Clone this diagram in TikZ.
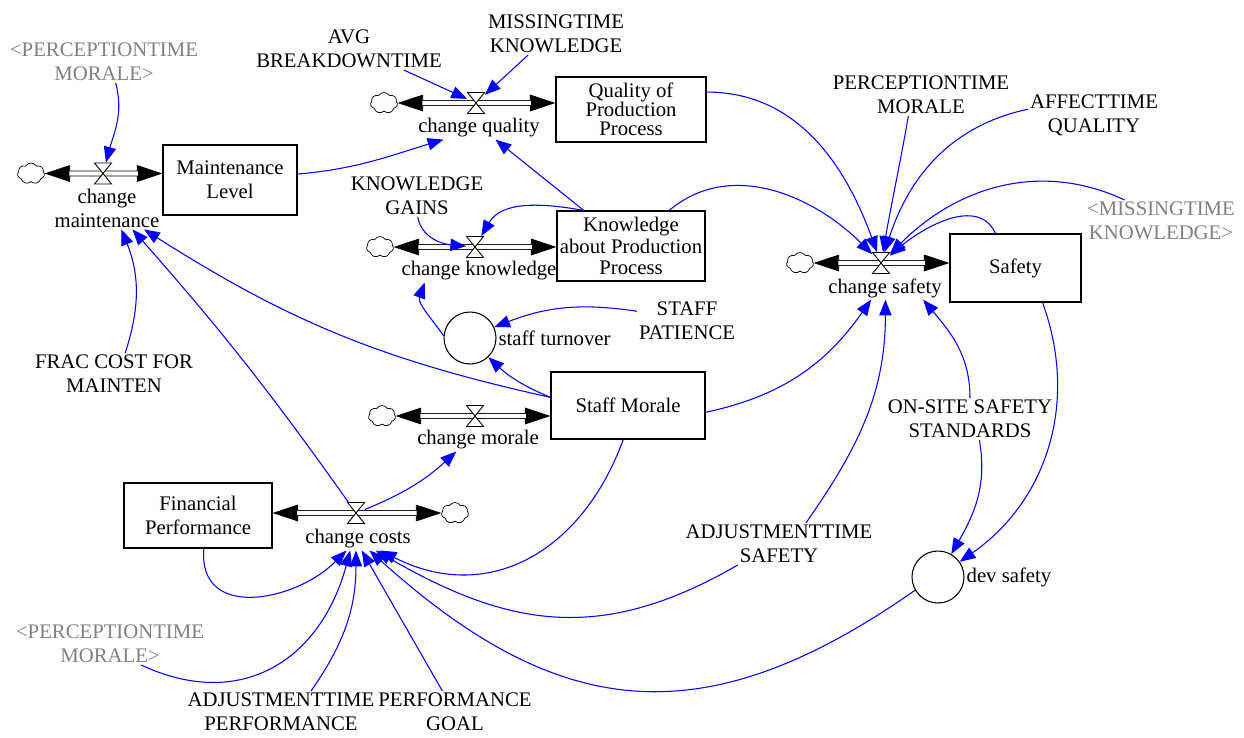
\documentclass[tikz,border=0pt]{standalone}
\usepackage{fontspec}
\setmainfont{Liberation Serif}
\usepackage{xcolor}
\usetikzlibrary{arrows.meta}
\usetikzlibrary{shapes.symbols, positioning, calc}

\tikzset{
  stock/.style={draw, line width=0.7pt, align=center, inner sep=1pt},
  konst/.style={align=center, inner sep=1pt},
  shadowvar/.style={konst, text=gray},
  flowlabel/.style={align=center, inner sep=1pt},
  valvebox/.style={inner sep=0pt, minimum width=0.34cm, minimum height=0.42cm},
  aux/.style={draw, circle, line width=0.6pt, minimum size=1.04cm, inner sep=0pt},
  source/.style={cloud, cloud puffs=7, cloud puff arc=120, aspect=1.25, draw,
    fill=white, line width=0.4pt, minimum width=0.54cm, minimum height=0.42cm, inner sep=0pt},
  link/.style={draw=blue, line width=0.6pt, -{Triangle[length=9pt, width=7pt]}},
  pipetip/.style={line width=0.5pt, {Triangle[length=14.5pt, width=9.5pt]}-{Triangle[length=14.5pt, width=9.5pt]}},
  pipe/.style={double, double distance=2.3pt, line width=0.5pt, shorten <=14pt, shorten >=14pt},
  valve/.pic={\draw[line width=0.5pt, fill=white] (-8.5,-10.5) -- (8.5,-10.5) -- (-8.5,10.5) -- (8.5,10.5) -- cycle;}
}

\begin{document}
\begin{tikzpicture}[x=0.02cm, y=-0.02cm, font=\fontsize{11.8pt}{13.6pt}\selectfont]
    \useasboundingbox (0,0) rectangle (1244,737);

    % Stocks
    \node[stock, minimum width=2.68cm, minimum height=1.40cm] (ml) at (230,180) {Maintenance\\Level};
    \node[stock, minimum width=3.00cm, minimum height=1.30cm, font=\fontsize{11.8pt}{10.8pt}\selectfont] (qp) at (631,109.5) {Quality of\\Production\\Process};
    \node[stock, minimum width=2.96cm, minimum height=1.40cm, font=\fontsize{11.8pt}{12.4pt}\selectfont] (kn) at (631,246) {Knowledge\\about Production\\Process};
    \node[stock, minimum width=2.62cm, minimum height=1.36cm] (sf) at (1015.5,268) {Safety};
    \node[stock, minimum width=3.08cm, minimum height=1.34cm] (sm) at (628,405.5) {Staff Morale};
    \node[stock, minimum width=2.96cm, minimum height=1.30cm] (fp) at (198,515.5) {Financial\\Performance};

    % Clouds
    \node[source] (cm) at (31,173.5) {};
    \node[source] (cq) at (384,103) {};
    \node[source] (ck) at (380,247) {};
    \node[source] (cs) at (800,263) {};
    \node[source] (cmo) at (382,416) {};
    \node[source] (cc) at (455,513) {};

    % Valves
    \node[valvebox] (vm) at (103,173.5) {};
    \node[valvebox] (vq) at (476,103) {};
    \node[valvebox] (vk) at (475,247) {};
    \node[valvebox] (vs) at (881,263) {};
    \node[valvebox] (vmo) at (475,416) {};
    \node[valvebox] (vc) at (356,513) {};

    % Pipes
    \draw[pipetip] (cm) -- (ml.west |- vm);
    \draw[pipe] (cm) -- (ml.west |- vm);
    \draw[pipetip] (cq) -- (qp.west |- vq);
    \draw[pipe] (cq) -- (qp.west |- vq);
    \draw[pipetip] (ck) -- (kn.west |- vk);
    \draw[pipe] (ck) -- (kn.west |- vk);
    \draw[pipetip] (cs) -- (sf.west |- vs);
    \draw[pipe] (cs) -- (sf.west |- vs);
    \draw[pipetip] (cmo) -- (sm.west |- vmo);
    \draw[pipe] (cmo) -- (sm.west |- vmo);
    \draw[pipetip] (fp.east |- vc) -- (cc);
    \draw[pipe] (fp.east |- vc) -- (cc);
    \foreach \v in {vm, vq, vk, vs, vmo, vc}
        \pic at (\v) {valve};

    % Flow names
    \node[flowlabel] (lm) at (107,208) {change\\maintenance};
    \node[flowlabel] (lq) at (479,128) {change quality};
    \node[flowlabel] (lk) at (479,271) {change knowledge};
    \node[flowlabel] (ls) at (885,288) {change safety};
    \node[flowlabel] (lmo) at (478,440) {change morale};
    \node[flowlabel] (lc) at (358,539) {change costs};

    % Auxiliaries
    \node[aux] (st) at (470,338) {};
    \node[konst, right=0pt of st] (stl) {staff turnover};
    \node[aux] (ds) at (938,577) {};
    \node[konst, right=0pt of ds] (dsl) {dev safety};

    % Constants
    \node[shadowvar] (pmt) at (104,62) {<PERCEPTIONTIME\\MORALE>};
    \node[konst] (avg) at (349,49) {AVG\\BREAKDOWNTIME};
    \node[konst] (mk) at (556,34) {MISSINGTIME\\KNOWLEDGE};
    \node[konst] (pm) at (921,95) {PERCEPTIONTIME\\MORALE};
    \node[konst] (aq) at (1094,115) {AFFECTTIME\\QUALITY};
    \node[konst] (kg) at (417,196) {KNOWLEDGE\\GAINS};
    \node[shadowvar] (mkg) at (1161,221) {<MISSINGTIME\\KNOWLEDGE>};
    \node[konst] (sp) at (687,321) {STAFF\\PATIENCE};
    \node[konst] (frac) at (114,374) {FRAC COST FOR\\MAINTEN};
    \node[konst] (oss) at (970,419) {ON-SITE SAFETY\\STANDARDS};
    \node[konst] (ast) at (779,544) {ADJUSTMENTTIME\\SAFETY};
    \node[shadowvar] (pmb) at (110,644) {<PERCEPTIONTIME\\MORALE>};
    \node[konst] (ap) at (281,712) {ADJUSTMENTTIME\\PERFORMANCE};
    \node[konst] (pg) at (455,712) {PERFORMANCE\\GOAL};

    % Links to change maintenance
    \draw[link] (pmt.-61) to[out=-75, in=75] (vm);
    \draw[link] (frac.62) to[bend right=20] (lm.-56);
    \draw[link] (vc) to[bend right=3] (lm.-40);
    \draw[link] (sm.174) to[bend left=10] (lm.-30);

    % Links to change quality
    \draw[link] (ml.5) to[out=5, in=-163] (lq.-162);
    \draw[link] (avg.-21) -- (vq);
    \draw[link] (mk.-143) -- (vq);
    \draw[link] (kn.143) -- (lq.-35);

    % Links to change knowledge and staff turnover
    \draw[link] (kn.143) to[out=170, in=60] (vk);
    \draw[link] (kg.-88) to[out=-80, in=175] (vk);
    \draw[link] (st.175) to[out=125, in=-110] (lk.-168);
    \draw[link] (sp.169) to[bend right=15] (st);
    \draw[link] (sm.174) to[bend left=10] (st);

    % Links to change safety
    \draw[link] (qp.13) to[out=0, in=110] (vs);
    \draw[link] (kn.43) to[out=40, in=135] (vs);
    \draw[link] (pm.-121) to[out=-100, in=80] (vs);
    \draw[link] (aq.175) to[out=192, in=72] (vs);
    \draw[link] (mkg.150) to[out=155, in=45] (vs);
    \draw[link] (sf.120) to[out=115, in=40] (vs);
    \draw[link] (sm.-5) to[out=12, in=-125] (ls.-140);
    \draw[link] (ast.38) to[out=55, in=-90] (ls.-88);
    \draw[link] (oss.90) to[out=90, in=-50] (ls.-17);

    % Links to dev safety
    \draw[link] (oss.-66) to[out=-80, in=60] (ds);
    \draw[link] (sf.-52) to[out=-70, in=35] (ds);

    % Links to change morale and change costs
    \draw[link] (vc) to[bend right=10] (lmo.-152);
    \draw[link] (sm.-98) to[out=-110, in=-27, looseness=1.15] (lc.-27);
    \draw[link] (fp.-80) to[out=-95, in=-135, looseness=1.3] (lc.-135);
    \draw[link] (ds.-150) to[out=-145, in=-42, looseness=1.2] (lc.-45);
    \draw[link] (ast.-153) to[out=-150, in=-30, looseness=1.1] (lc.-33);
    \draw[link] (pmb.-34) to[out=-25, in=-105, looseness=1.2] (lc.-124);
    \draw[link] (ap.35) to[out=55, in=-90] (lc.-100);
    \draw[link] (pg.121) -- (lc.-72);
\end{tikzpicture}
\end{document}
